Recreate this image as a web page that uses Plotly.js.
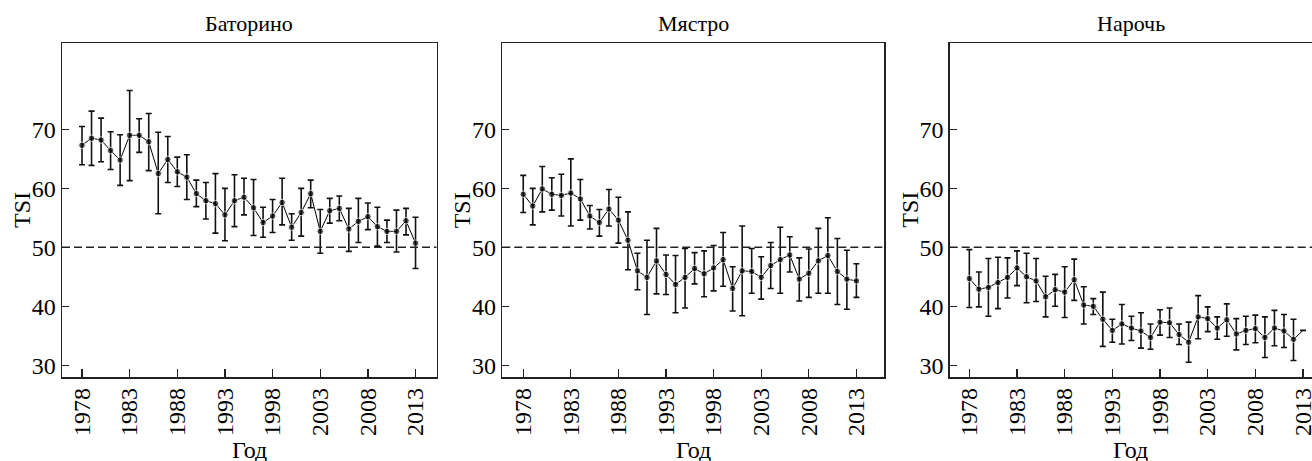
<!DOCTYPE html>
<html>
<head>
<meta charset="utf-8">
<script src="https://cdn.plot.ly/plotly-3.0.1.min.js"></script>
<style>html,body{margin:0;padding:0;background:#fff}#chart{width:1312px;height:461px}</style>
</head>
<body>
<div id="chart"></div>
<script>
const years = [1978,1979,1980,1981,1982,1983,1984,1985,1986,1987,1988,1989,1990,1991,1992,1993,1994,1995,1996,1997,1998,1999,2000,2001,2002,2003,2004,2005,2006,2007,2008,2009,2010,2011,2012,2013];
const stations = ['Баторино', 'Мястро', 'Нарочь'];
const xTitle = 'Год';
const yTitle = 'TSI';
const xTickVals = [1978,1983,1988,1993,1998,2003,2008,2013];
const yTickVals = [30,40,50,60,70];
const threshold = 50;

// Баторино
const tsiBatorino   = [67.3,68.5,68.2,66.4,64.8,69.0,69.0,67.9,62.5,64.9,62.8,61.9,59.1,57.9,57.4,55.5,57.9,58.5,56.7,54.2,55.3,57.6,53.4,55.9,59.1,52.7,56.2,56.6,53.1,54.4,55.2,53.5,52.7,52.7,54.5,50.7];
const upperBatorino = [70.5,73.1,71.9,69.6,69.1,76.6,71.8,72.7,69.5,68.8,65.3,65.7,61.4,61.0,62.5,60.0,62.3,61.7,61.5,56.8,58.1,61.7,55.7,60.0,61.4,56.4,58.3,58.7,56.6,58.3,57.5,56.8,54.6,56.3,56.6,55.1];
const lowerBatorino = [64.0,63.9,64.5,63.2,60.5,61.3,66.1,63.0,55.7,61.0,60.3,58.1,56.9,54.8,52.4,51.1,53.5,55.5,52.0,51.7,52.5,53.8,51.2,51.9,56.7,49.0,54.1,54.5,49.3,50.8,53.0,50.2,50.8,49.2,52.1,46.4];

// Мястро
const tsiMyastro   = [59.0,57.0,59.9,59.0,58.8,59.2,58.2,55.3,54.2,56.5,54.6,51.2,46.0,44.9,47.7,45.4,43.7,44.9,46.4,45.5,46.5,47.9,43.0,46.0,45.9,44.9,46.9,47.9,48.7,44.6,45.6,47.7,48.6,45.9,44.6,44.3];
const upperMyastro = [62.2,60.0,63.7,61.8,62.4,65.0,61.5,57.1,56.4,59.8,58.5,56.0,49.0,51.2,53.2,48.7,48.6,49.8,49.1,49.4,50.3,52.5,46.7,53.6,49.8,48.4,50.8,53.4,51.8,48.2,49.7,53.2,55.0,51.5,49.5,47.2];
const lowerMyastro = [55.9,53.8,56.0,56.3,55.3,53.6,54.6,53.1,51.9,53.6,50.7,46.2,42.8,38.6,42.1,42.0,38.9,39.7,43.8,41.6,42.6,43.4,39.2,38.4,42.2,41.2,43.0,42.2,45.8,40.9,41.5,42.2,42.2,40.3,39.5,41.5];

// Нарочь
const tsiNaroch   = [44.7,42.9,43.2,44.0,44.9,46.5,45.0,44.3,41.6,42.8,42.4,44.5,40.2,40.0,37.8,35.9,37.0,36.3,35.8,34.7,37.3,37.2,35.2,33.9,38.2,37.9,36.3,37.7,35.3,35.9,36.2,34.7,36.3,35.8,34.4,35.9];
const upperNaroch = [49.6,45.8,48.1,48.3,48.2,49.4,49.0,48.1,45.1,45.4,46.7,48.0,43.3,41.3,42.4,37.8,40.3,38.3,38.9,37.0,39.4,39.7,37.0,37.3,41.8,39.9,38.2,40.4,37.9,38.3,38.5,38.2,39.3,38.6,37.8,null];
const lowerNaroch = [39.8,39.9,38.3,39.6,41.4,43.5,40.6,40.8,38.2,40.0,38.1,41.0,37.0,38.6,33.2,33.9,33.6,34.2,32.9,32.7,35.1,34.7,33.5,30.5,34.5,35.7,34.4,34.9,32.6,33.5,33.8,31.3,33.3,33.0,30.8,null];

const series = [
  {v: tsiBatorino, up: upperBatorino, lo: lowerBatorino},
  {v: tsiMyastro, up: upperMyastro, lo: lowerMyastro},
  {v: tsiNaroch, up: upperNaroch, lo: lowerNaroch}
];

const FONT = '"Liberation Serif", "Times New Roman", serif';
const INK = '#000';
const xDomains = [[62/1312, 436.5/1312], [502.3/1312, 884/1312], [949.7/1312, 1]];
const xRanges = [[1975.9, 2015.2], [1975.8, 2015.9], [1975.94, 2013.94]];
const yDomain = [84/461, 418/461];
const yRange = [28, 84.65];

const traces = [];
const layout = {
  width: 1312, height: 461,
  margin: {l: 0, r: 0, t: 0, b: 0},
  paper_bgcolor: '#fff', plot_bgcolor: '#fff',
  showlegend: false,
  font: {family: FONT, color: INK, size: 22},
  shapes: [], annotations: []
};

series.forEach((s, i) => {
  const n = i === 0 ? '' : String(i + 1);
  const plus = s.v.map((v, k) => s.up[k] === null ? null : +(s.up[k] - v).toFixed(2));
  const minus = s.v.map((v, k) => s.lo[k] === null ? null : +(v - s.lo[k]).toFixed(2));
  const sizes = s.up.map(u => u === null ? 0 : 6.5);
  traces.push({
    type: 'scatter', mode: 'lines+markers',
    x: years, y: s.v,
    xaxis: 'x' + n, yaxis: 'y' + n,
    line: {color: INK, width: 1},
    marker: {color: INK, size: sizes},
    error_y: {type: 'data', symmetric: false, array: plus, arrayminus: minus,
              color: '#111', thickness: 1.6, width: 3},
    hoverinfo: 'x+y'
  });
  layout['xaxis' + n] = {
    domain: xDomains[i], range: xRanges[i], anchor: 'y' + n,
    tickmode: 'array', tickvals: xTickVals, ticktext: xTickVals.map(String),
    tickangle: -90, ticks: 'inside', ticklen: 8, tickwidth: 1.3, tickcolor: '#222',
    ticklabeloverflow: 'allow',
    showline: true, linecolor: '#222', linewidth: 1.5, mirror: true,
    showgrid: false, zeroline: false,
    tickfont: {family: FONT, size: 24, color: INK}
  };
  layout['yaxis' + n] = {
    domain: yDomain, range: yRange, anchor: 'x' + n,
    tickmode: 'array', tickvals: yTickVals, ticktext: yTickVals.map(String),
    ticks: 'inside', ticklen: 7, tickwidth: 1.3, tickcolor: '#222',
    showline: true, linecolor: '#222', linewidth: 1.5, mirror: i < 2,
    showgrid: false, zeroline: false,
    tickfont: {family: FONT, size: 24, color: INK}
  };
  layout.shapes.push({
    type: 'line', xref: 'x' + n + ' domain', yref: 'y' + n,
    x0: 0, x1: 1, y0: threshold, y1: threshold,
    line: {color: '#222', width: 1.4, dash: '8px,4px'}
  });
  // panel title
  layout.annotations.push({
    text: stations[i], xref: 'x' + n + ' domain', yref: 'paper',
    x: 0.5, y: 1 - 24/461, xanchor: 'center', yanchor: 'middle',
    showarrow: false, font: {family: FONT, size: 22, color: INK}
  });
  // x axis title
  layout.annotations.push({
    text: xTitle, xref: 'x' + n + ' domain', yref: 'paper',
    x: 0.5, y: 11/461, xanchor: 'center', yanchor: 'middle',
    showarrow: false, font: {family: FONT, size: 24, color: INK}
  });
  // y axis title
  layout.annotations.push({
    text: yTitle, xref: 'x' + n + ' domain', yref: 'y' + n + ' domain',
    x: 0, xshift: -40, y: 0.5, xanchor: 'center', yanchor: 'middle', textangle: -90,
    showarrow: false, font: {family: FONT, size: 24, color: INK}
  });
});

Plotly.newPlot('chart', traces, layout, {displayModeBar: false, staticPlot: true});
</script>
</body>
</html>
